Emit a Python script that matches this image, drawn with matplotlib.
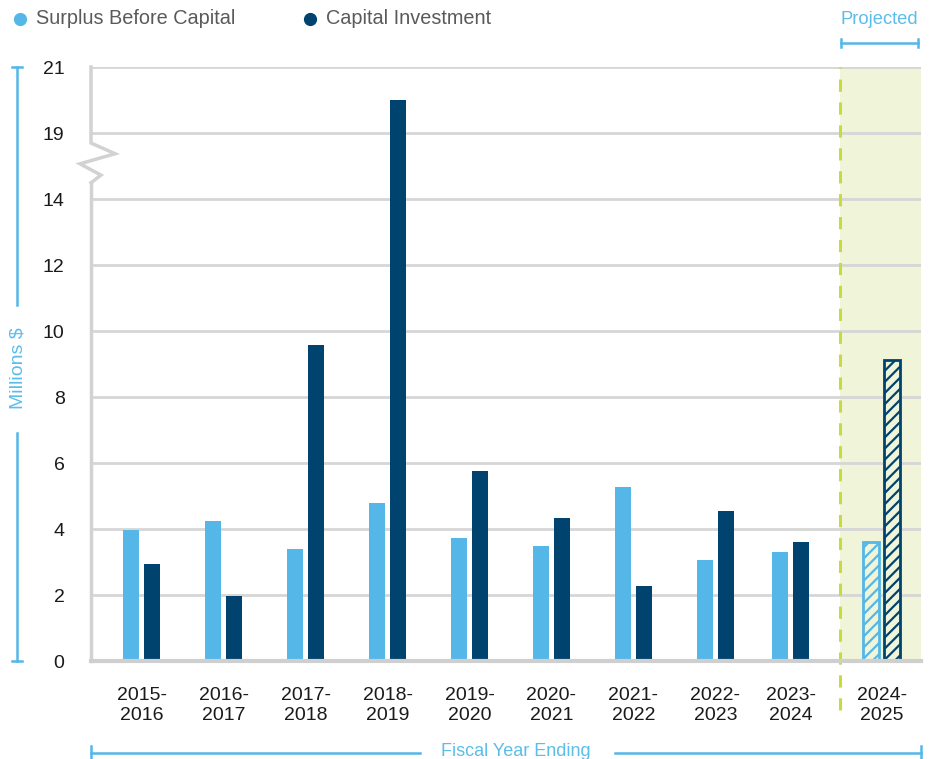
import numpy as np
import matplotlib
matplotlib.use("Agg")
import matplotlib.pyplot as plt
from matplotlib.lines import Line2D

plt.rcParams['font.family'] = ['Liberation Sans', 'DejaVu Sans']
plt.rcParams['hatch.linewidth'] = 1.6

# ---- data ----
categories = ["2015-\n2016", "2016-\n2017", "2017-\n2018", "2018-\n2019", "2019-\n2020",
              "2020-\n2021", "2021-\n2022", "2022-\n2023", "2023-\n2024", "2024-\n2025"]
surplus = [3.98, 4.24, 3.39, 4.79, 3.73, 3.48, 5.27, 3.06, 3.30, 3.60]
capital = [2.95, 1.98, 9.58, 20.0, 5.76, 4.33, 2.27, 4.55, 3.61, 9.12]
projected = [False] * 9 + [True]
ytick_values = [0, 2, 4, 6, 8, 10, 12, 14, 19, 21]
legend_labels = ["Surplus Before Capital", "Capital Investment"]

LIGHT = "#55B7E8"
DARK = "#00436F"
BAND = "#F0F5DA"
GRID = "#D6D6D6"

W, H = 930, 759
fig = plt.figure(figsize=(W / 100, H / 100), dpi=100)
ax = fig.add_axes([91 / W, 1 - 661 / H, (921 - 91) / W, (661 - 67) / H])


def fwd(v):
    v = np.asarray(v, float)
    return np.where(v <= 14, v, np.where(v < 19, 14 + (v - 14) * 0.4, v - 3))


def inv(u):
    u = np.asarray(u, float)
    return np.where(u <= 14, u, np.where(u < 16, 14 + (u - 14) / 0.4, u + 3))


ax.set_yscale('function', functions=(fwd, inv))
ax.set_ylim(0, 21)

x = np.arange(len(categories), dtype=float)
x[8] -= 0.08
x[9] += 0.03
ax.set_xlim(-0.62, 9.51)

bw = 0.195
off = 0.128
divider = 8.52

ax.axvspan(divider, 9.51, color=BAND, zorder=0.2, lw=0)

for i in range(len(categories)):
    if projected[i]:
        ax.bar(x[i] - off, surplus[i], bw, facecolor=BAND, edgecolor=LIGHT, hatch='///', lw=2, zorder=2)
        ax.bar(x[i] + off, capital[i], bw, facecolor=BAND, edgecolor=DARK, hatch='///', lw=2, zorder=2)
    else:
        ax.bar(x[i] - off, surplus[i], bw, color=LIGHT, lw=0, zorder=2)
        ax.bar(x[i] + off, capital[i], bw, color=DARK, lw=0, zorder=2)

ax.axvline(divider, ymin=-0.083, ymax=1, color="#C8DA3E", lw=2.2, ls=(0, (4, 3.5)),
           clip_on=False, zorder=3)

ax.set_yticks(ytick_values)
ax.set_yticklabels([str(v) for v in ytick_values])
ax.yaxis.set_minor_locator(matplotlib.ticker.NullLocator())
ax.set_axisbelow(True)
ax.yaxis.grid(True, color=GRID, lw=2)
ax.set_xticks(x)
ax.set_xticklabels(categories, fontsize=14, color="#1A1A1A", linespacing=1.22)
ax.tick_params(axis='x', length=0, pad=19)
ax.tick_params(axis='y', length=0, pad=19, labelsize=14, labelcolor="#1A1A1A")

for s in ['top', 'right', 'left']:
    ax.spines[s].set_visible(False)
ax.spines['bottom'].set_color("#CFCFCF")
ax.spines['bottom'].set_linewidth(3)
ax.spines['bottom'].set_zorder(4)

# left spine with zigzag break
tr = ax.transAxes
ax.add_line(Line2D([0, 0], [0, 0.805], transform=tr, color="#D2D2D2", lw=2.5, clip_on=False))
ax.add_line(Line2D([0, 0, 0.029, -0.0133, 0.012, 0], [1, 0.872, 0.854, 0.837, 0.818, 0.805],
                   transform=tr, color="#D2D2D2", lw=2.5, clip_on=False, solid_joinstyle='miter'))

# helpers in pixel coords
def P(px, py):
    return (px / W, 1 - py / H)

def fline(xs, ys, color=LIGHT, lw=1.8):
    pts = [P(a, b) for a, b in zip(xs, ys)]
    fig.add_artist(Line2D([p[0] for p in pts], [p[1] for p in pts], color=color, lw=lw))

# legend
fig.add_artist(Line2D([20 / W], [1 - 19 / H], marker='o', ms=8.5, color=LIGHT, lw=0))
fig.add_artist(Line2D([310 / W], [1 - 19 / H], marker='o', ms=8.5, color=DARK, lw=0))
fig.text(36 / W, 1 - 19 / H, legend_labels[0], fontsize=14.3, color="#5A5A5A", va='center', ha='left')
fig.text(326 / W, 1 - 19 / H, legend_labels[1], fontsize=14.3, color="#5A5A5A", va='center', ha='left')

# projected bracket
fig.text(879 / W, 1 - 19 / H, "Projected", fontsize=13.2, color="#5BBDEB", va='center', ha='center')
fline([841, 918], [43, 43])
fline([841, 841], [39, 47])
fline([918, 918], [39, 47])

# y-axis label bracket
fig.text(18 / W, 1 - 368 / H, "Millions $", fontsize=14, color="#5BBDEB", va='center', ha='center',
         rotation=90)
fline([17, 17], [67, 305])
fline([17, 17], [433, 661])
fline([12, 22], [67, 67])
fline([12, 22], [661, 661])

# x-axis label bracket
fig.text(516 / W, 1 - 752 / H, "Fiscal Year Ending", fontsize=13, color="#5BBDEB", va='center', ha='center')
fline([91, 420], [753, 753])
fline([615, 921], [753, 753])
fline([91, 91], [746, 759])
fline([921, 921], [746, 759])

fig.savefig("out.png", dpi=100)
